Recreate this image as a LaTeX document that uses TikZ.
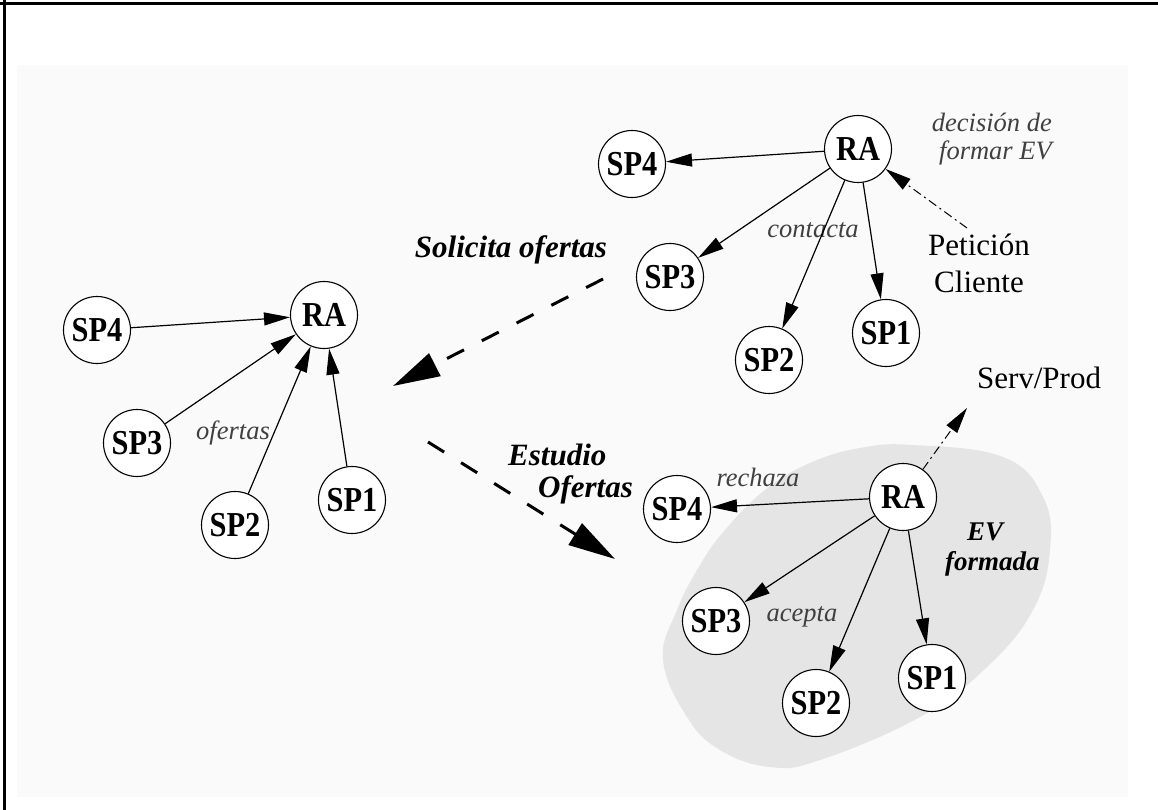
\documentclass[tikz,border=0pt]{standalone}
\usepackage{fontspec}
\setmainfont{Liberation Serif}
\newfontfamily\condserif{Liberation Serif}[FakeStretch=0.87]
\usetikzlibrary{arrows.meta}

\begin{document}
\begin{tikzpicture}[x=1pt,y=-1pt,
  agent/.style={circle,draw,line width=1.1pt,fill=white,minimum size=67pt,inner sep=0pt,
    font=\condserif\bfseries\fontsize{35pt}{36pt}\selectfont},
  link/.style={line width=1.2pt,-{Triangle[length=26pt,width=13pt]}},
  phase/.style={line width=3pt,dash pattern=on 19pt off 20pt,-{Triangle[length=47pt,width=25pt]}},
  flow/.style={line width=1pt,dash pattern=on 9pt off 4pt on 2pt off 4pt,-{Triangle[length=26pt,width=13pt]}},
  note/.style={inner sep=0pt,text=black!75,font=\itshape\fontsize{26.5pt}{28pt}\selectfont},
  step label/.style={inner sep=0pt,font=\bfseries\itshape\fontsize{31pt}{32pt}\selectfont},
  plain/.style={inner sep=0pt,font=\fontsize{31pt}{37pt}\selectfont},
]
\useasboundingbox (0,0) rectangle (1158,810);

% page frame and light backdrop
\fill[black!2] (17,65) rectangle (1128,797);
\draw[line width=3pt] (0,4) -- (1158,4);
\draw[line width=3pt] (4,0) -- (4,810);

% shaded region of the formed virtual enterprise
\fill[black!10] plot[smooth cycle, tension=0.7] coordinates {
  (913,445) (1003,457) (1043,497) (1050,550) (1033,610) (987,667)
  (920,717) (820,760) (770,767) (720,750) (687,717) (663,660)
  (677,610) (700,565) (725,530) (765,490) (810,463) (860,448)};

% left group: offers arrive
\node[agent] (lRA)  at (324,315) {RA};
\node[agent] (lSP4) at (97,330)  {SP4};
\node[agent] (lSP3) at (137,443) {SP3};
\node[agent] (lSP2) at (235,525) {SP2};
\node[agent] (lSP1) at (352,500) {SP1};

% top group: contacting providers
\node[agent] (tRA)  at (858,149) {RA};
\node[agent] (tSP4) at (632,164) {SP4};
\node[agent] (tSP3) at (670,277) {SP3};
\node[agent] (tSP2) at (769,360) {SP2};
\node[agent] (tSP1) at (886,333) {SP1};

% bottom group: formed enterprise
\node[agent] (bRA)  at (903,497) {RA};
\node[agent] (bSP4) at (677,509) {SP4};
\node[agent] (bSP3) at (716,621) {SP3};
\node[agent] (bSP2) at (816,703) {SP2};
\node[agent] (bSP1) at (932,678) {SP1};

% labels
\node[note] (ofertas)  at (233,433) {ofertas};
\node[note] (contacta) at (813,230) {contacta};
\node[note] (rechaza)  at (758,477) {rechaza};
\node[note] (acepta)   at (802,617) {acepta};
\node[note,align=right,anchor=east] (decision) at (1052,139) {decisión de\\formar EV};
\node[plain,align=center] (peticion) at (979,263) {Petición\\Cliente};
\node[plain] (servprod) at (1039,378) {Serv/Prod};
\node[step label] (solicita) at (511,250) {Solicita ofertas};
\node[step label,align=left,anchor=west] (estudio) at (508,474) {Estudio\\\hspace*{30pt}Ofertas};
\node[step label,font=\bfseries\itshape\fontsize{27pt}{30pt}\selectfont,align=left,anchor=west]
  (evformada) at (945,550) {\hspace*{22pt}EV\\formada};

% free ends of the phase and request arrows
\coordinate (solA)  at (603,279);
\coordinate (solB)  at (393,386);
\coordinate (estA)  at (428,442);
\coordinate (estB)  at (615,559);
\coordinate (petA)  at (967,228);
\coordinate (servB) at (967,408);

% offers towards RA
\draw[link] (lSP4) -- (lRA);
\draw[link] (lSP3) -- (lRA);
\draw[link] (lSP2) -- (lRA);
\draw[link] (lSP1) -- (lRA);

% RA contacts providers
\draw[link] (tRA) -- (tSP4);
\draw[link] (tRA) -- (tSP3);
\draw[link] (tRA) -- (tSP2);
\draw[link] (tRA) -- (tSP1);

% RA accepts / rejects
\draw[link] (bRA) -- (bSP4);
\draw[link] (bRA) -- (bSP3);
\draw[link] (bRA) -- (bSP2);
\draw[link] (bRA) -- (bSP1);

% client request and delivered product
\draw[flow] (petA) -- (tRA);
\draw[flow] (bRA) -- (servB);

% phase transitions
\draw[phase] (solA) -- (solB);
\draw[phase] (estA) -- (estB);
\end{tikzpicture}
\end{document}
